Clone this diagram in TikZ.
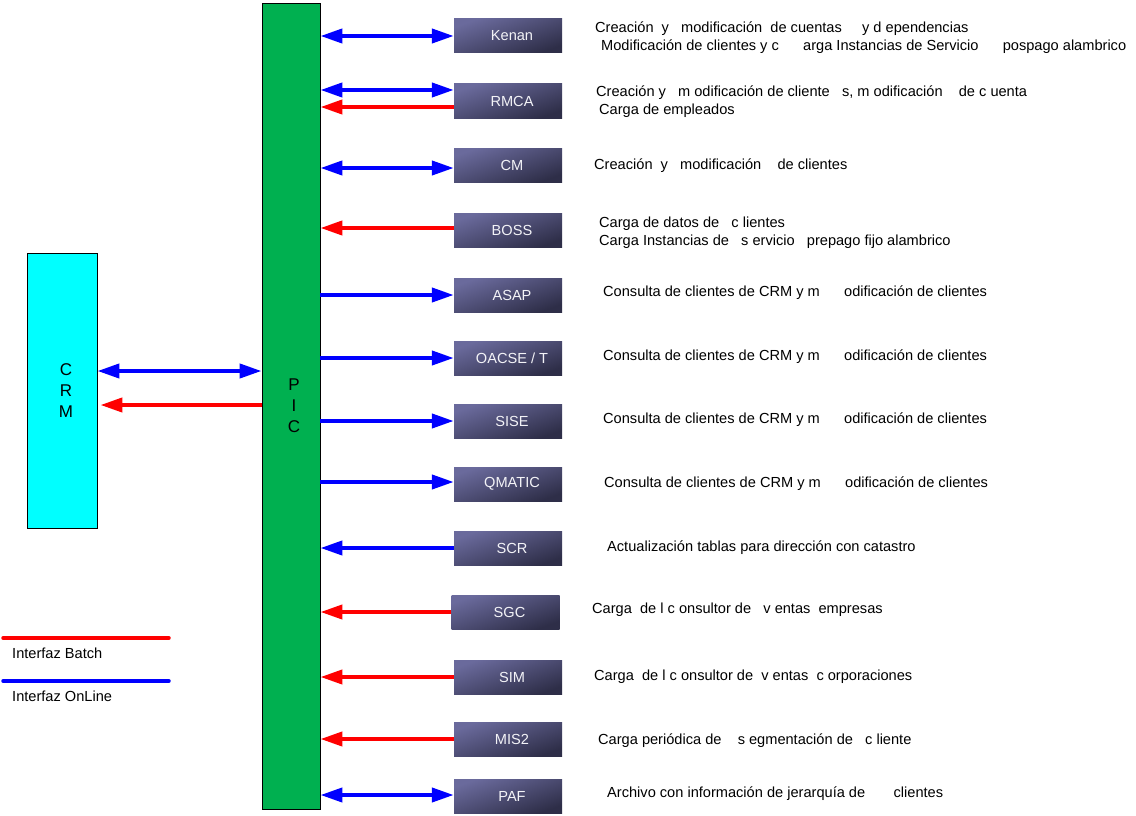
\documentclass[tikz,border=0pt]{standalone}
\usepackage{fontspec}
\setmainfont{Liberation Sans}
\usetikzlibrary{positioning,arrows.meta}
\definecolor{picgreen}{RGB}{0,176,80}
\definecolor{crmcyan}{RGB}{0,255,255}
\definecolor{sistop}{RGB}{106,106,156}
\definecolor{sisbot}{RGB}{46,46,72}
\definecolor{online}{RGB}{0,0,255}
\definecolor{batch}{RGB}{255,0,0}
\tikzset{
  sistema/.style={rectangle,top color=sistop,bottom color=sisbot,shading angle=20,
    minimum width=108pt,minimum height=34pt,text=white!92!sistop,font=\fontsize{14.6}{17}\selectfont,
    execute at begin node=\hspace*{8pt}},
  desc/.style={anchor=west,inner sep=0pt,font=\fontsize{14.6}{18}\selectfont},
  texto/.style={desc,yshift=-2pt},
  barra/.style={draw=black,line width=0.8pt,align=center,font=\fontsize{17}{21}\selectfont},
  flecha/.style={line width=4pt,{Triangle[length=22pt,width=14pt]}-{Triangle[length=22pt,width=14pt]}},
  ida/.style={line width=4pt,-{Triangle[length=22pt,width=14pt]}},
  azul/.style={draw=online},
  rojo/.style={draw=batch,fill=batch},
}
\begin{document}
\begin{tikzpicture}[x=1pt,y=-1pt]
\useasboundingbox (0,0) rectangle (1136,816);

\node[barra,fill=picgreen,minimum width=58pt,minimum height=806pt] (pic) at (291,406) {\hspace*{6pt}P\\\hspace*{6pt}I\\\hspace*{6pt}C};
\node[barra,fill=crmcyan,minimum width=70pt,minimum height=275pt] (crm) at (62,390.5) {\hspace*{8pt}C\\\hspace*{8pt}R\\\hspace*{8pt}M};

\node[sistema] (kenan) at (508,36) {Kenan};
\node[sistema] (rmca) at (508,101) {RMCA};
\node[sistema] (cm) at (508,165) {CM};
\node[sistema] (boss) at (508,230) {BOSS};
\node[sistema] (asap) at (508,295) {ASAP};
\node[sistema] (oacse) at (508,358) {OACSE / T};
\node[sistema] (sise) at (508,421) {SISE};
\node[sistema] (qmatic) at (508,484) {QMATIC};
\node[sistema] (scr) at (508,548) {SCR};
\node[sistema] (sgc) at (505.5,612) {SGC};
\node[sistema] (sim) at (508,677) {SIM};
\node[sistema] (mis) at (508,739) {MIS2};
\node[sistema] (paf) at (508,796) {PAF};

\node[texto] (kenanA) at (595,27) {Creación~ y~~ modificación~ de cuentas~~~~ y d ependencias};
\node[texto] (kenanB) at (601,45) {Modificación de clientes y c~~~~~ arga Instancias de Servicio~~~~~ pospago alambrico};
\node[texto] (rmcaA) at (596,91) {Creación y~~ m odificación de cliente~~ s, m odificación~~~ de c uenta};
\node[texto] (rmcaB) at (599,109) {Carga de empleados};
\node[texto] (cmA) at (594,164) {Creación~ y~~ modificación~~~ de clientes};
\node[texto] (bossA) at (599,222) {Carga de datos de~~ c lientes};
\node[texto] (bossB) at (599,240) {Carga Instancias de~~ s ervicio~~ prepago fijo alambrico};
\node[texto] (asapA) at (603,291) {Consulta de clientes de CRM y m~~~~~ odificación de clientes};
\node[texto] (oacseA) at (603,355) {Consulta de clientes de CRM y m~~~~~ odificación de clientes};
\node[texto] (siseA) at (603,418) {Consulta de clientes de CRM y m~~~~~ odificación de clientes};
\node[texto] (qmaticA) at (604,482) {Consulta de clientes de CRM y m~~~~~ odificación de clientes};
\node[texto] (scrA) at (607,546) {Actualización tablas para dirección con catastro};
\node[texto] (sgcA) at (592,608) {Carga~ de l c onsultor de~~ v entas~ empresas};
\node[texto] (simA) at (594,675) {Carga~ de l c onsultor de~ v entas~ c orporaciones};
\node[texto] (misA) at (598,739) {Carga periódica de~~~ s egmentación de~~ c liente};
\node[texto] (pafA) at (607,792) {Archivo con información de jerarquía de~~~~~~ clientes};

% CRM - PIC
\draw[flecha,azul] (crm.east |- 0,371) -- (pic.west |- 0,371);
\draw[ida,rojo] (pic.west |- 0,405) -- ([xshift=3pt]crm.east |- 0,405);

% PIC - sistemas
\draw[flecha,azul] (kenan.west -| pic.east) -- (kenan.west);
\draw[flecha,azul] ([yshift=11pt]rmca.west -| pic.east) -- ([yshift=11pt]rmca.west);
\draw[ida,rojo] ([yshift=-6pt]rmca.west) -- ([yshift=-6pt]rmca.west -| pic.east);
\draw[flecha,azul] ([yshift=-3pt]cm.west -| pic.east) -- ([yshift=-3pt]cm.west);
\draw[ida,rojo] ([yshift=2pt]boss.west) -- ([yshift=2pt]boss.west -| pic.east);
\draw[ida,azul] (asap.west -| pic.east) -- (asap.west);
\draw[ida,azul] (oacse.west -| pic.east) -- (oacse.west);
\draw[ida,azul] (sise.west -| pic.east) -- (sise.west);
\draw[ida,azul] ([yshift=2pt]qmatic.west -| pic.east) -- ([yshift=2pt]qmatic.west);
\draw[ida,azul] (scr.west) -- (scr.west -| pic.east);
\draw[ida,rojo] (sgc.west) -- (sgc.west -| pic.east);
\draw[ida,rojo] (sim.west) -- (sim.west -| pic.east);
\draw[ida,rojo] (mis.west) -- (mis.west -| pic.east);
\draw[flecha,azul] ([yshift=1pt]paf.west -| pic.east) -- ([yshift=1pt]paf.west);

% leyenda
\coordinate (batchA) at (3,638);
\coordinate (batchB) at (169,638);
\coordinate (onlineA) at (3,681);
\coordinate (onlineB) at (169,681);
\draw[batch,line width=3.5pt,line cap=round] (batchA) -- (batchB);
\draw[online,line width=3.5pt,line cap=round] (onlineA) -- (onlineB);
\node[desc] (batchT) at (12,653) {Interfaz Batch};
\node[desc] (onlineT) at (12,696) {Interfaz OnLine};
\end{tikzpicture}
\end{document}
